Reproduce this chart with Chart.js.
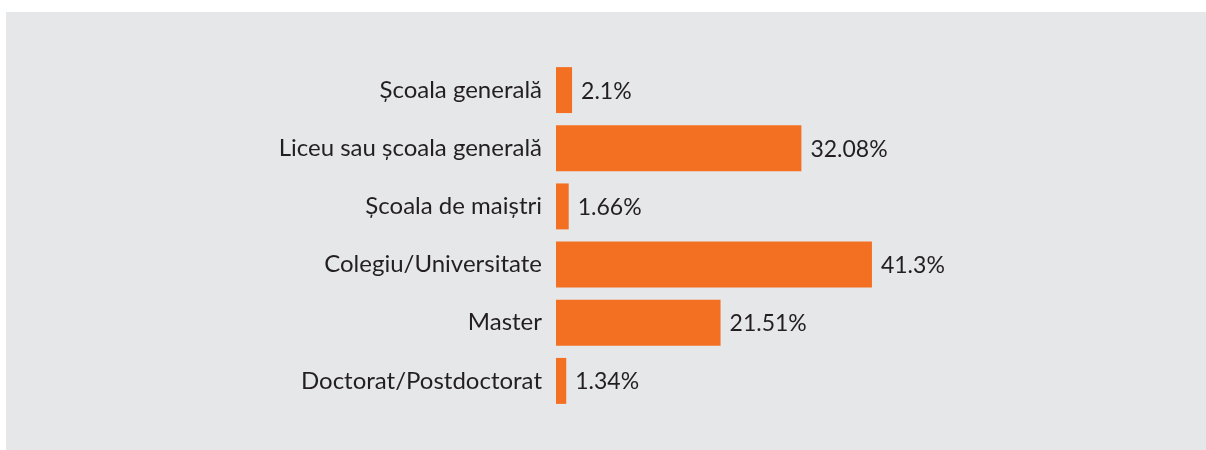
<!DOCTYPE html>
<html>
<head>
<meta charset="utf-8">
<script src="https://cdn.jsdelivr.net/npm/chart.js@4"></script>
<style>
    html, body { margin: 0; padding: 0; background: #ffffff; }
    #panel {
        position: absolute;
        left: 6px;
        top: 12px;
        width: 1200px;
        height: 438px;
        background: #e6e7e8;
    }
</style>
</head>
<body>
<div id="panel"><canvas id="eduChart" width="1200" height="438"></canvas></div>
<script>
const categories = [
    'Școala generală',
    'Liceu sau școala generală',
    'Școala de maiștri',
    'Colegiu/Universitate',
    'Master',
    'Doctorat/Postdoctorat'
];
const shares = [2.1, 32.08, 1.66, 41.3, 21.51, 1.34];

const barColor = '#f37022';
const textColor = '#231f20';
const fontFamily = 'Lato, "Open Sans", sans-serif';

// value labels at the end of each bar
const valueLabels = {
    id: 'valueLabels',
    afterDatasetsDraw(chart) {
        const ctx = chart.ctx;
        const meta = chart.getDatasetMeta(0);
        ctx.save();
        ctx.font = '23px ' + fontFamily;
        ctx.fillStyle = textColor;
        ctx.textAlign = 'left';
        ctx.textBaseline = 'middle';
        meta.data.forEach((bar, i) => {
            ctx.fillText(shares[i] + '%', bar.x + 9, bar.y + 1);
        });
        ctx.restore();
    }
};

const ctx = document.getElementById('eduChart').getContext('2d');
new Chart(ctx, {
    type: 'bar',
    data: {
        labels: categories,
        datasets: [{
            data: shares,
            backgroundColor: barColor,
            borderWidth: 0,
            categoryPercentage: 1,
            barPercentage: 0.79
        }]
    },
    options: {
        indexAxis: 'y',
        responsive: false,
        animation: false,
        layout: { padding: { top: 49, bottom: 40, left: 0, right: 38 } },
        plugins: {
            legend: { display: false },
            tooltip: { enabled: false }
        },
        scales: {
            x: {
                display: false,
                min: 0,
                max: 80
            },
            y: {
                grid: { display: false, drawTicks: false },
                border: { display: false },
                ticks: {
                    color: textColor,
                    padding: 14,
                    font: { family: fontFamily, size: 24 }
                },
                afterFit(axis) {
                    axis.width = 550;
                }
            }
        }
    },
    plugins: [valueLabels]
});
</script>
</body>
</html>
